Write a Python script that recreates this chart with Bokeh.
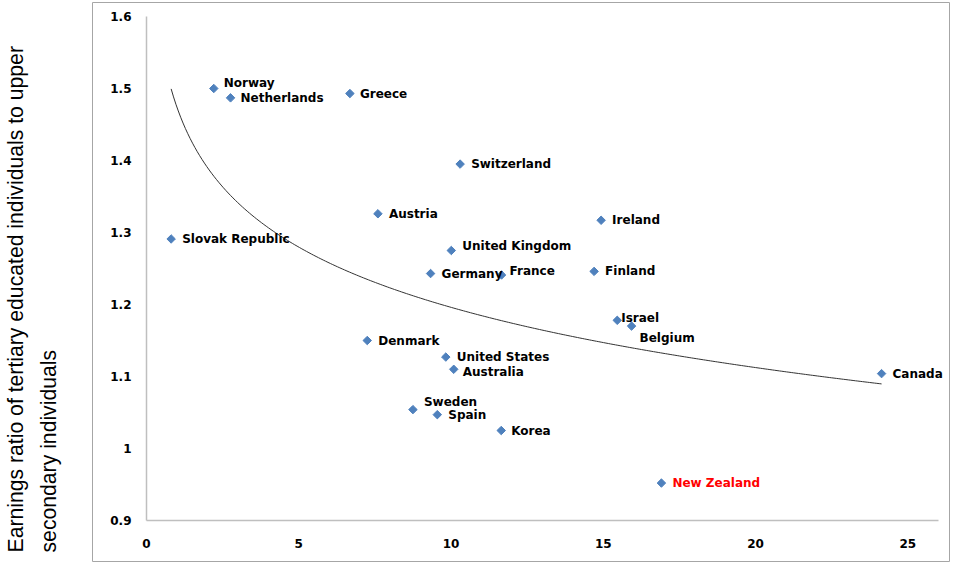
import numpy as np
from bokeh.plotting import figure
from bokeh.models import (LinearAxis, FixedTicker, Range1d, Title,
                          ColumnDataSource, LabelSet)
from bokeh.core.properties import value
from bokeh.embed import file_html
from bokeh.resources import INLINE

# ---------------- data ----------------
countries = ["Norway", "Netherlands", "Greece", "Switzerland", "Austria",
             "Ireland", "Slovak Republic", "United Kingdom", "Germany",
             "France", "Finland", "Israel", "Belgium", "Denmark",
             "United States", "Australia", "Sweden", "Spain", "Korea",
             "New Zealand", "Canada"]
x_values = [2.21, 2.76, 6.68, 10.30, 7.60, 14.93, 0.81, 10.01, 9.33,
            11.66, 14.70, 15.46, 15.93, 7.25, 9.83, 10.09, 8.75, 9.55,
            11.65, 16.91, 24.14]
y_values = [1.500, 1.487, 1.493, 1.395, 1.326, 1.317, 1.291, 1.275, 1.243,
            1.241, 1.246, 1.178, 1.170, 1.150, 1.127, 1.110, 1.054, 1.047,
            1.025, 0.952, 1.104]
x_ticks = [0, 5, 10, 15, 20, 25]
y_ticks = [0.9, 1.0, 1.1, 1.2, 1.3, 1.4, 1.5, 1.6]
y_tick_labels = ["0.9", "1", "1.1", "1.2", "1.3", "1.4", "1.5", "1.6"]
# logarithmic trendline  y = a + b*ln(x)  (coefficients)
trend_a = 1.474
trend_b = -0.1207

y_title_1 = "Earnings ratio of tertiary educated individuals to upper"
y_title_2 = "secondary individuals"

# ---------------- label placement (screen px) ----------------
label_dx = {"Israel": 4, "Belgium": 8, "France": 8, "Australia": 9,
            "Norway": 10, "Netherlands": 10, "Greece": 10, "Korea": 10}
label_dy = {"Norway": 5, "United Kingdom": 4, "France": 4, "Israel": 2,
            "Belgium": -12, "Australia": -3, "Sweden": 8}
label_color = {"New Zealand": "#FF0000"}

src = ColumnDataSource(dict(
    x=x_values, y=y_values, name=countries,
    dx=[label_dx.get(c, 11) for c in countries],
    dy=[label_dy.get(c, 0) for c in countries],
    col=[label_color.get(c, "#000000") for c in countries],
))

FONT_NAME = "DejaVu Sans"

p = figure(width=952, height=562, output_backend="svg", toolbar_location=None,
           x_axis_type=None, y_axis_type=None,
           x_range=Range1d(-1.773, 26.371), y_range=Range1d(0.84306, 1.61944),
           min_border_left=92, min_border_right=3, min_border_top=2,
           min_border_bottom=1)
p.outline_line_color = "#A6A6A6"
p.outline_line_width = 1
p.background_fill_color = "white"
p.border_fill_color = "white"

axis_style = dict(axis_line_color="#BFBFBF", axis_line_width=1.5,
                  major_tick_in=0, major_tick_out=0,
                  minor_tick_line_color=None, major_tick_line_color=None,
                  major_label_text_font=FONT_NAME,
                  major_label_text_font_style="bold",
                  major_label_text_font_size="12px",
                  major_label_text_color="#000000")

xaxis = LinearAxis(fixed_location=0.9, ticker=FixedTicker(ticks=x_ticks),
                   bounds=(0, 26.0), major_label_standoff=18, **axis_style)
p.add_layout(xaxis, "below")

yaxis = LinearAxis(fixed_location=0, ticker=FixedTicker(ticks=y_ticks),
                   bounds=(0.9, 1.6), major_label_standoff=15,
                   major_label_overrides=dict(zip(y_ticks, y_tick_labels)),
                   **axis_style)
p.add_layout(yaxis, "left")

title_style = dict(align="left", text_font="Liberation Sans",
                   text_font_style="normal", text_font_size="21.2px",
                   text_color="#000000", offset=9)
# spacer between frame and the two-line vertical title
p.add_layout(Title(text=" ", standoff=22, text_font_size="1px"), "left")
p.add_layout(Title(text=y_title_2, standoff=16, **title_style), "left")
p.add_layout(Title(text=y_title_1, standoff=0, **title_style), "left")

# trendline over the data's x range
tx = np.linspace(min(x_values), max(x_values), 300)
ty = trend_a + trend_b * np.log(tx)
p.line(tx, ty, line_color="#333333", line_width=1)

p.scatter("x", "y", source=src, marker="square", angle=np.pi / 4, size=6,
          fill_color="#4F81BD", line_color="#4F81BD")

labels = LabelSet(x="x", y="y", text="name", source=src,
                  x_offset="dx", y_offset="dy", text_color="col",
                  text_font=value(FONT_NAME), text_font_style="bold",
                  text_font_size="12px", text_baseline="middle",
                  text_align="left")
p.add_layout(labels)

open("out.html", "w").write(file_html(p, INLINE))
